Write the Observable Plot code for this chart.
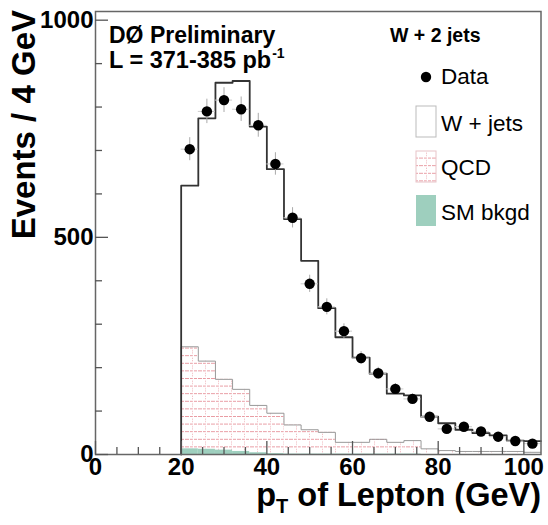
<!DOCTYPE html>
<html><head><meta charset="utf-8">
<script src="https://cdn.jsdelivr.net/npm/d3@7"></script>
<script src="https://cdn.jsdelivr.net/npm/@observablehq/plot@0.6"></script>
<style>body{margin:0;background:#fff;} svg{display:block}</style>
</head><body><div id="chart"></div>
<script>
// Bin lower edges (GeV), 4 GeV wide
const binLow = [20,24,28,32,36,40,44,48,52,56,60,64,68,72,76,80,84,88,92,96,100];
const binWidth = 4;
// Total expectation (W + jets stacked on QCD + SM)
const wjets = [619,774,856,860,755,657,542,446,337,270,223,186,140,136,87,72,57,49,44,32,31];
// Data counts
const dataCounts = [703,790,816,795,758,669,545,393,340,284,222,187,151,128,87,59,64,53,41,31,25];
// QCD stacked on SM background
const qcdStack = [248,215,173,150,113,95,68,57,51,28,28,35,28,32,13,9,7,7,7,7,5];
// SM background
const smBkgd = [13,12,10,7,4,2,1,1,1,1,1,1,1,1,0,0,0,0,0,0,0];

const yMajor = [0,500,1000];
const yMinor = [100,200,300,400,600,700,800,900];
const xMajor = [0,20,40,60,80,100];
const xMinor = [5,10,15,25,30,35,45,50,55,65,70,75,85,90,95];

const smColor = "#9ecfbe";

const bins = binLow.map((x0,i)=>({x1:x0, x2:x0+binWidth, xc:x0+binWidth/2,
  wjets:wjets[i], data:dataCounts[i], qcd:qcdStack[i], sm:smBkgd[i]}));
const last = binLow.length-1;
const stepPts = vals => [{x:binLow[0], y:0}, ...binLow.map((x0,i)=>({x:x0, y:vals[i]})), {x:binLow[last]+binWidth, y:vals[last]}];

const chart = Plot.plot({
  width: 548, height: 525,
  marginLeft: 95, marginRight: 7.5, marginTop: 11, marginBottom: 71,
  x: {domain: [0,104]},
  y: {domain: [0,1020]},
  style: {fontFamily: "'Liberation Sans', Arial, sans-serif", background: "#fff", color: "#000"},
  marks: [
    Plot.rect(bins, {x1:"x1", x2:"x2", y1:0, y2:"qcd", fill:"url(#qcdHatch)"}),
    Plot.rect(bins, {x1:"x1", x2:"x2", y1:0, y2:"sm", fill:smColor}),
    Plot.line(stepPts(qcdStack), {x:"x", y:"y", curve:"step-after", stroke:"#999", strokeWidth:1}),
    Plot.line(stepPts(wjets), {x:"x", y:"y", curve:"step-after", stroke:"#333", strokeWidth:1.8}),
    Plot.ruleX(bins, {x:"xc", y1:d=>d.data-Math.sqrt(d.data), y2:d=>d.data+Math.sqrt(d.data), stroke:"#aaa", strokeWidth:1}),
    Plot.ruleY(bins, {y:"data", x1:d=>d.xc-2, x2:d=>d.xc+2, stroke:"#ccc", strokeWidth:1}),
    Plot.dot(bins, {x:"xc", y:"data", r:5.2, fill:"#000"}),
    Plot.frame({stroke:"#666", strokeWidth:1.5}),
    Plot.axisY(yMinor, {tickSize:-7, fill:"none", stroke:"#555", strokeWidth:1.3, label:null}),
    Plot.axisY(yMajor, {tickSize:-13, fill:"none", stroke:"#555", strokeWidth:1.3, label:null}),
    Plot.axisY(yMajor, {tickSize:0, tickPadding:2, fontSize:24, fontWeight:"bold", tickFormat:d3.format("d"), label:null}),
    Plot.axisX(xMinor, {tickSize:-7, fill:"none", stroke:"#555", strokeWidth:1.3, label:null}),
    Plot.axisX(xMajor, {tickSize:-13, fill:"none", stroke:"#555", strokeWidth:1.3, label:null}),
    Plot.axisX(xMajor, {tickSize:0, tickPadding:3, fontSize:24, fontWeight:"bold", tickFormat:d3.format("d"), label:null})
  ]
});
document.getElementById("chart").appendChild(chart);

const svg = d3.select(chart);
const defs = svg.insert("defs", ":first-child");
const pat = defs.append("pattern").attr("id","qcdHatch").attr("patternUnits","userSpaceOnUse")
  .attr("width",13).attr("height",7.6).attr("x",95).attr("y",454);
pat.append("rect").attr("width",13).attr("height",7.6).attr("fill","#fff");
pat.append("line").attr("x1",0).attr("x2",13).attr("y1",0.5).attr("y2",0.5)
  .attr("stroke","#e899a1").attr("stroke-width",1).attr("stroke-dasharray","3,1");
pat.append("line").attr("x1",6.5).attr("x2",6.5).attr("y1",0).attr("y2",7.6)
  .attr("stroke","#eeaab1").attr("stroke-width",1).attr("stroke-dasharray","1,1.5");

const font = "'Liberation Sans', Arial, sans-serif";
const g = svg.append("g").attr("font-family", font).attr("fill","#000").attr("text-anchor","start");

// annotations
g.append("text").attr("x",109).attr("y",43).attr("font-size",23).attr("font-weight","bold").text("DØ Preliminary");
const lt = g.append("text").attr("x",109).attr("y",68).attr("font-size",23.5).attr("font-weight","bold");
lt.append("tspan").text("L = 371-385 pb");
lt.append("tspan").attr("font-size",14).attr("dx",1).attr("dy",-10).text("-1");

// legend
g.append("text").attr("x",390).attr("y",42).attr("font-size",19.5).attr("font-weight","bold").text("W + 2 jets");
g.append("circle").attr("cx",426).attr("cy",77).attr("r",5.2).attr("fill","#000");
g.append("text").attr("x",441).attr("y",84).attr("font-size",22.5).text("Data");
g.append("rect").attr("x",416).attr("y",106).attr("width",20).attr("height",31).attr("fill","#fff").attr("stroke","#bbb");
g.append("text").attr("x",441).attr("y",131).attr("font-size",22.5).text("W + jets");
g.append("rect").attr("x",416).attr("y",151).attr("width",20).attr("height",31).attr("fill","url(#qcdHatch)").attr("stroke","#e8c4c8");
g.append("text").attr("x",441).attr("y",175).attr("font-size",22.5).text("QCD");
g.append("rect").attr("x",416).attr("y",195).attr("width",20).attr("height",31).attr("fill",smColor);
g.append("text").attr("x",441).attr("y",220).attr("font-size",22.5).text("SM bkgd");

// axis titles
g.append("text").attr("transform","translate(35,10) rotate(-90)").attr("text-anchor","end")
  .attr("font-size",33).attr("font-weight","bold").text("Events / 4 GeV");
const xl = g.append("text").attr("x",541).attr("y",506).attr("text-anchor","end").attr("font-size",32.5).attr("font-weight","bold");
xl.append("tspan").text("p");
xl.append("tspan").attr("font-size",20).attr("dy",7).text("T");
xl.append("tspan").attr("dy",-7).text(" of Lepton (GeV)");
</script>
</body></html>
